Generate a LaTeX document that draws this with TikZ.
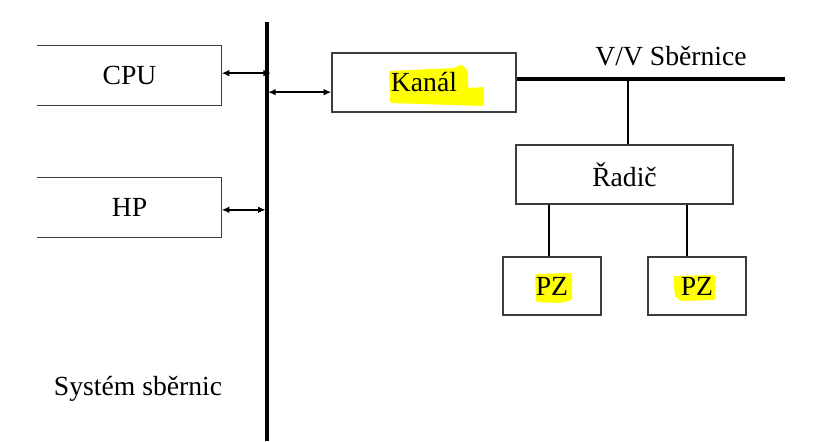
\documentclass[tikz,border=0pt]{standalone}
\usepackage{fontspec}
\setmainfont{Liberation Serif}
\usetikzlibrary{arrows.meta,positioning,calc,backgrounds}
\definecolor{ink}{HTML}{000000}
\definecolor{ink2}{HTML}{3C3C3C}
\definecolor{mark}{HTML}{FFFF00}
\tikzset{
  >={Latex[length=2.3mm,width=2.0mm]},
  every picture/.style={line join=miter},
  box/.style={draw=ink2, line width=1.1pt, inner sep=0pt, font=\fontsize{23.6}{28}\selectfont, text=ink},
  openbox/.style={box, draw=none},
  lbl/.style={font=\fontsize{23.6}{28}\selectfont, text=ink, inner sep=0pt},
  bus/.style={draw=ink, line width=3pt},
  link/.style={draw=ink, line width=2.3pt},
  arr/.style={<->, draw=ink, line width=2pt},
  hilite/.style={fill=mark, draw=none, rounded corners=2pt},
}
\begin{document}
\begin{tikzpicture}[x=0.03cm, y=-0.03cm]
  \useasboundingbox (0,0) rectangle (840,441);

  % ---------------- marker highlights ----------------
  \fill[hilite] (389,71) -- (455,68) -- (461,64) -- (468,71) -- (468,88)
    -- (484,87) -- (484,106) -- (390,103) -- cycle;
  \fill[hilite] (535,274) -- (572,273) -- (572,300) -- (560,303) -- (536,302) -- cycle;
  \fill[hilite] (673,276) -- (715,275) -- (715,300) -- (680,301) -- (675,296) -- cycle;

  % ---------------- system bus ----------------
  \coordinate (bustop) at (267,22);
  \coordinate (busbot) at (267,441);
  \draw[bus] (bustop) -- (busbot);
  \node[lbl, anchor=base] (sys) at (138,395) {Systém sběrnic};

  % ---------------- CPU and HP (open on the left) ----------------
  \node[openbox, minimum width=5.49cm, minimum height=1.77cm] (cpu) at (129.5,75.5) {CPU};
  \node[openbox, minimum width=5.49cm, minimum height=1.77cm] (hp) at (129.5,207.5) {HP};
  \draw[draw=ink2, line width=1.1pt] (cpu.north west) -- (cpu.north east) -- (cpu.south east) -- (cpu.south west);
  \draw[draw=ink2, line width=1.1pt] (hp.north west) -- (hp.north east) -- (hp.south east) -- (hp.south west);
  \draw[arr, shorten >=-0.12cm] ([yshift=0.07cm]cpu.east) -- ([yshift=0.07cm]cpu.east -| bustop);
  \draw[arr, shorten >=0.04cm] ([yshift=-0.07cm]hp.east) -- ([yshift=-0.07cm]hp.east -| bustop);

  % ---------------- channel and I/O bus ----------------
  \node[box, minimum width=5.52cm, minimum height=1.77cm] (kanal) at (424,82.5) {Kanál};
  \draw[arr, shorten <=0.03cm] ([yshift=-0.29cm]kanal.west -| bustop) -- ([yshift=-0.29cm]kanal.west);
  \coordinate (ioend) at (785,79);
  \draw[bus, line width=3.4pt] (kanal.east |- ioend) -- (ioend);
  \node[lbl, anchor=base] (iolbl) at (671,65) {V/V Sběrnice};

  % ---------------- controller and devices ----------------
  \node[box, minimum width=6.51cm, minimum height=1.77cm] (radic) at (624.5,174.5) {Řadič};
  \coordinate (tap) at (628,79);
  \draw[link] (tap) -- (tap |- radic.north);
  \node[box, minimum width=2.94cm, minimum height=1.74cm] (pz1) at (552,286) {PZ};
  \node[box, minimum width=2.94cm, minimum height=1.74cm] (pz2) at (697,286) {PZ};
  \draw[link] ([xshift=-0.09cm]pz1.north) -- ([xshift=-0.09cm]pz1.north |- radic.south);
  \draw[link] ([xshift=-0.3cm]pz2.north) -- ([xshift=-0.3cm]pz2.north |- radic.south);
\end{tikzpicture}
\end{document}
